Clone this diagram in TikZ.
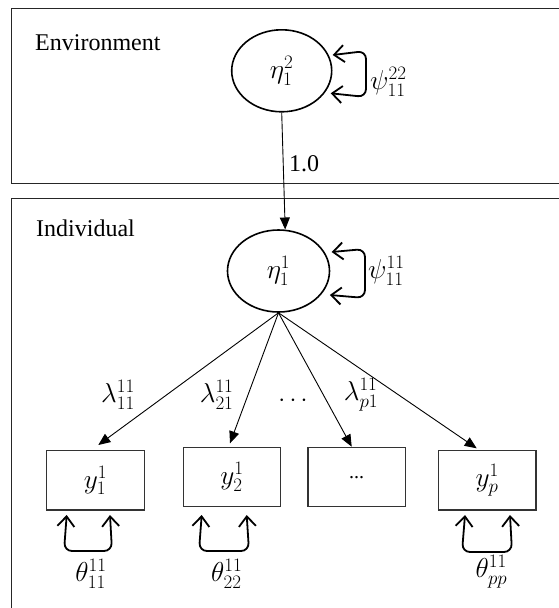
\documentclass[tikz,border=0pt]{standalone}
\usepackage{graphicx}
\usepackage{fontspec}
\setmainfont{Liberation Serif}
\usetikzlibrary{arrows.meta,shapes.geometric}
\newcommand\mymath[1]{\scalebox{1.1}{$#1$}}
\begin{document}
\begin{tikzpicture}[x=1pt,y=-1pt,
  every node/.style={font=\fontsize{24}{28}\selectfont, inner sep=0pt},
  frame/.style={line width=1.8pt, draw=black!85},
  latent/.style={ellipse, draw, line width=1.6pt, minimum width=100pt, minimum height=82pt},
  obs/.style={rectangle, draw=black!80, line width=1.3pt, minimum width=97.5pt, minimum height=59.3pt},
  load/.style={line width=0.9pt, -{Triangle[length=12pt,width=10pt]}},
  var/.style={line width=1.8pt, rounded corners=8pt,
    {Straight Barb[length=10pt,width=17pt]}-{Straight Barb[length=10pt,width=17pt]}}
]
\useasboundingbox (0,0) rectangle (559,608);
% frames
\draw[frame] (580,8.5) -- (11.5,8.5) -- (11.5,183.5) -- (580,183.5);
\draw[frame] (580,198.5) -- (11.5,198.5) -- (11.5,620);
\node[anchor=base west] (envlab) at (35,50) {Environment};
\node[anchor=base west] (indlab) at (36,236) {Individual};
% latent variables
\node[latent] (eta2) at (281.7,70.8) {\mymath{\eta_1^2}};
\node[latent, minimum width=102pt] (eta1) at (278.5,271) {\mymath{\eta_1^1}};
% observed
\node[obs] (y1) at (95.5,480.3) {\mymath{y_1^1}};
\node[obs] (y2) at (232,477) {\mymath{y_2^1}};
\node[obs, font=\fontsize{20}{24}\selectfont] (y3) at (356.7,477) {\raisebox{-3pt}{...}};
\node[obs] (yp) at (487.3,480.3) {\mymath{y_p^1}};
% connectors
\coordinate (in1) at (285.2,229.5);
\draw[load] (eta2.south) -- (in1);
\node[anchor=base west] (one) at (289,171) {1.0};
\coordinate (t1) at (98.3,445);
\coordinate (t2) at (230,443.3);
\coordinate (t3) at (351.7,446.7);
\coordinate (t4) at (476.7,448.3);
\draw[load] (eta1.south) -- (t1);
\draw[load] (eta1.south) -- (t2);
\draw[load] (eta1.south) -- (t3);
\draw[load] (eta1.south) -- (t4);
\node (lam1) at (118,395) {\mymath{\lambda_{11}^{11}}};
\node (lam2) at (216.7,395) {\mymath{\lambda_{21}^{11}}};
\node (ldots) at (293,401) {$\cdots$};
\node (lamp) at (361,395) {\mymath{\lambda_{p1}^{11}}};
% variances of latent variables
\coordinate (a2u) at (332.7,55);
\coordinate (a2d) at (330.7,93.3);
\draw[var] (a2u) -- (366,51) -- (366,97) -- (a2d);
\node[anchor=west] (psi2) at (370,82) {\mymath{\psi_{11}^{22}}};
\coordinate (a1u) at (331.6,252);
\coordinate (a1d) at (329.8,295);
\draw[var] (a1u) -- (365,249) -- (365,298) -- (a1d);
\node[anchor=west] (psi1) at (368,271) {\mymath{\psi_{11}^{11}}};
% residual variances
\coordinate (r1l) at (66.7,515);
\coordinate (r1r) at (110,515);
\draw[var] (r1l) -- (64,551) -- (112,551) -- (r1r);
\coordinate (r2l) at (201.7,515);
\coordinate (r2r) at (246.7,515);
\draw[var] (r2l) -- (199,551) -- (249,551) -- (r2r);
\coordinate (r4l) at (465,515);
\coordinate (r4r) at (510,515);
\draw[var] (r4l) -- (462,552) -- (512,552) -- (r4r);
\node (th1) at (91,574) {\mymath{\theta_{11}^{11}}};
\node (th2) at (226.7,574) {\mymath{\theta_{22}^{11}}};
\node (thp) at (491.5,572) {\mymath{\theta_{pp}^{11}}};
\end{tikzpicture}
\end{document}
